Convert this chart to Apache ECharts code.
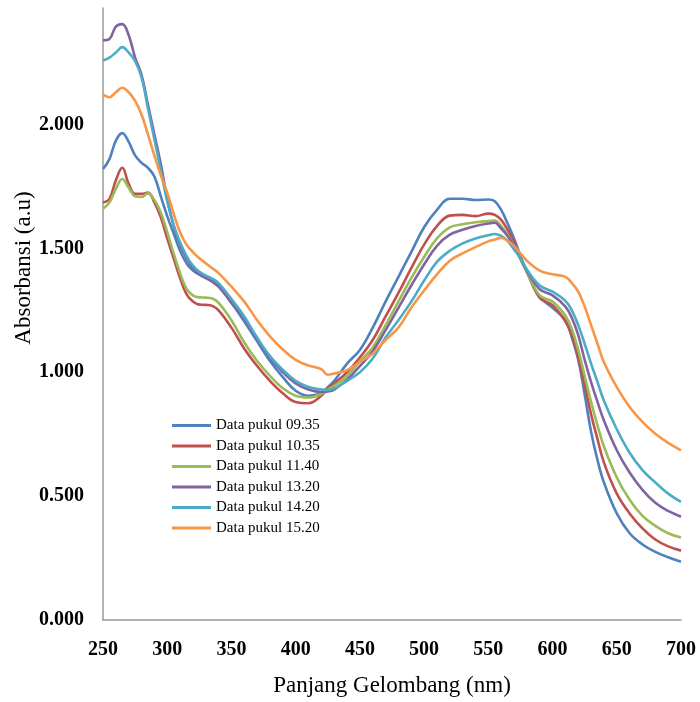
<!DOCTYPE html>
<html><head><meta charset="utf-8">
<script src="https://cdn.jsdelivr.net/npm/echarts@6/dist/echarts.min.js"></script>
<style>html,body{margin:0;padding:0;background:#fff}#c{width:700px;height:702px}</style>
</head><body><div id="c"></div>
<script>
const wavelengths = [250,255,260,265,270,275,280,285,290,295,300,305,310,315,320,325,330,335,340,
  350,360,370,380,390,400,410,420,425,430,
  440,450,460,470,480,490,500,510,520,530,540,550,
  555,560,565,570,575,580,590,600,610,
  615,620,625,630,635,640,650,660,670,680,690,700];

const seriesNames = ['Data pukul 09.35','Data pukul 10.35','Data pukul 11.40','Data pukul 13.20','Data pukul 14.20','Data pukul 15.20'];

const data0935 = [1.82,1.86,1.935,1.965,1.93,1.875,1.845,1.825,1.79,1.71,1.63,1.56,1.49,1.44,1.41,1.395,1.385,1.37,1.35,
  1.28,1.205,1.125,1.045,0.98,0.925,0.905,0.915,0.94,0.965,
  1.035,1.09,1.18,1.285,1.385,1.485,1.585,1.655,1.70,1.70,1.695,1.697,
  1.69,1.655,1.60,1.54,1.47,1.405,1.305,1.26,1.21,
  1.14,1.05,0.91,0.76,0.645,0.555,0.43,0.35,0.305,0.275,0.253,0.235];

const data1035 = [1.685,1.70,1.775,1.825,1.76,1.72,1.72,1.725,1.685,1.625,1.54,1.46,1.38,1.315,1.285,1.273,1.272,1.268,1.25,
  1.18,1.095,1.025,0.965,0.915,0.88,0.875,0.905,0.935,0.955,
  1.0,1.06,1.13,1.225,1.32,1.42,1.515,1.59,1.632,1.635,1.63,1.64,
  1.635,1.615,1.575,1.525,1.46,1.405,1.30,1.27,1.205,
  1.15,1.06,0.95,0.83,0.73,0.635,0.51,0.43,0.37,0.325,0.297,0.28];

const data1140 = [1.66,1.685,1.74,1.78,1.745,1.71,1.707,1.722,1.695,1.645,1.565,1.48,1.40,1.337,1.31,1.302,1.301,1.298,1.28,
  1.21,1.12,1.045,0.985,0.935,0.905,0.898,0.912,0.93,0.945,
  0.985,1.045,1.10,1.19,1.285,1.38,1.465,1.54,1.585,1.597,1.605,1.61,
  1.612,1.59,1.555,1.51,1.455,1.405,1.31,1.285,1.228,
  1.175,1.09,0.985,0.88,0.785,0.70,0.575,0.485,0.42,0.38,0.35,0.333];

const data1320 = [2.34,2.345,2.395,2.405,2.36,2.27,2.20,2.08,1.96,1.84,1.70,1.59,1.515,1.46,1.42,1.395,1.38,1.365,1.345,
  1.28,1.215,1.135,1.06,1.0,0.955,0.93,0.92,0.922,0.93,
  0.97,1.025,1.085,1.17,1.26,1.35,1.435,1.51,1.555,1.575,1.59,1.60,
  1.603,1.58,1.55,1.51,1.46,1.41,1.335,1.31,1.265,
  1.22,1.15,1.05,0.96,0.88,0.805,0.685,0.595,0.525,0.473,0.44,0.417];

const data1420 = [2.258,2.27,2.29,2.312,2.29,2.255,2.19,2.065,1.94,1.815,1.69,1.595,1.525,1.47,1.43,1.405,1.39,1.378,1.36,
  1.295,1.225,1.14,1.065,1.01,0.965,0.94,0.93,0.928,0.935,
  0.965,1.0,1.055,1.14,1.21,1.285,1.37,1.445,1.49,1.52,1.54,1.553,
  1.558,1.55,1.53,1.495,1.46,1.415,1.35,1.325,1.288,
  1.25,1.19,1.115,1.035,0.96,0.885,0.77,0.675,0.605,0.555,0.51,0.477];

const data1520 = [2.12,2.11,2.13,2.148,2.13,2.095,2.04,1.96,1.875,1.795,1.725,1.64,1.565,1.515,1.485,1.46,1.44,1.42,1.40,
  1.345,1.285,1.21,1.145,1.092,1.05,1.027,1.012,0.99,0.995,
  1.008,1.042,1.075,1.13,1.18,1.26,1.33,1.395,1.45,1.48,1.505,1.528,
  1.535,1.543,1.53,1.51,1.48,1.45,1.41,1.395,1.385,
  1.36,1.325,1.265,1.19,1.115,1.04,0.94,0.86,0.80,0.752,0.715,0.685];

const yTicks = [0, 0.5, 1.0, 1.5, 2.0];
const colors = ['#4F81BD','#C0504D','#9BBB59','#8064A2','#4BACC6','#F79646'];
const allData = [data0935, data1035, data1140, data1320, data1420, data1520];

const serif = '"Liberation Serif", "Times New Roman", serif';
const chart = echarts.init(document.getElementById('c'), null, {renderer: 'canvas'});
chart.setOption({
  animation: false,
  backgroundColor: '#ffffff',
  color: colors,
  grid: {left: 103, right: 19, top: 8, bottom: 82},
  xAxis: {
    type: 'value', min: 250, max: 700, interval: 50,
    axisLine: {lineStyle: {color: '#9a9a9a', width: 1.5}},
    axisTick: {show: false},
    splitLine: {show: false},
    axisLabel: {fontFamily: serif, fontWeight: 'bold', fontSize: 20, color: '#000', margin: 20},
    name: 'Panjang Gelombang (nm)', nameLocation: 'middle', nameGap: 54,
    nameTextStyle: {fontFamily: serif, fontSize: 23, color: '#000'}
  },
  yAxis: {
    type: 'value', min: 0, max: 2.47, interval: 0.5,
    axisLine: {show: true, lineStyle: {color: '#9a9a9a', width: 1.5}},
    axisTick: {show: false},
    splitLine: {show: false},
    axisLabel: {
      fontFamily: serif, fontWeight: 'bold', fontSize: 20, color: '#000', margin: 19,
      showMaxLabel: false,
      formatter: v => yTicks.some(t => Math.abs(t - v) < 1e-9) ? v.toFixed(3) : ''
    }
  },
  legend: {
    orient: 'vertical', left: 172, top: 418, padding: 0,
    icon: 'rect', itemWidth: 39, itemHeight: 3, itemGap: 5.5,
    textStyle: {fontFamily: serif, fontSize: 15, color: '#000', lineHeight: 15},
    data: seriesNames
  },
  graphic: [{
    type: 'text', x: 24, y: 268, rotation: Math.PI / 2,
    style: {text: 'Absorbansi (a.u)', font: '23px "Liberation Serif"', fill: '#000', align: 'center', verticalAlign: 'middle'}
  }],
  series: seriesNames.map((n, i) => ({
    name: n, type: 'line', smooth: 0.4, symbol: 'none',
    lineStyle: {width: 2.6, color: colors[i]},
    itemStyle: {color: colors[i]},
    data: wavelengths.map((w, j) => [w, allData[i][j]])
  }))
});
</script></body></html>
